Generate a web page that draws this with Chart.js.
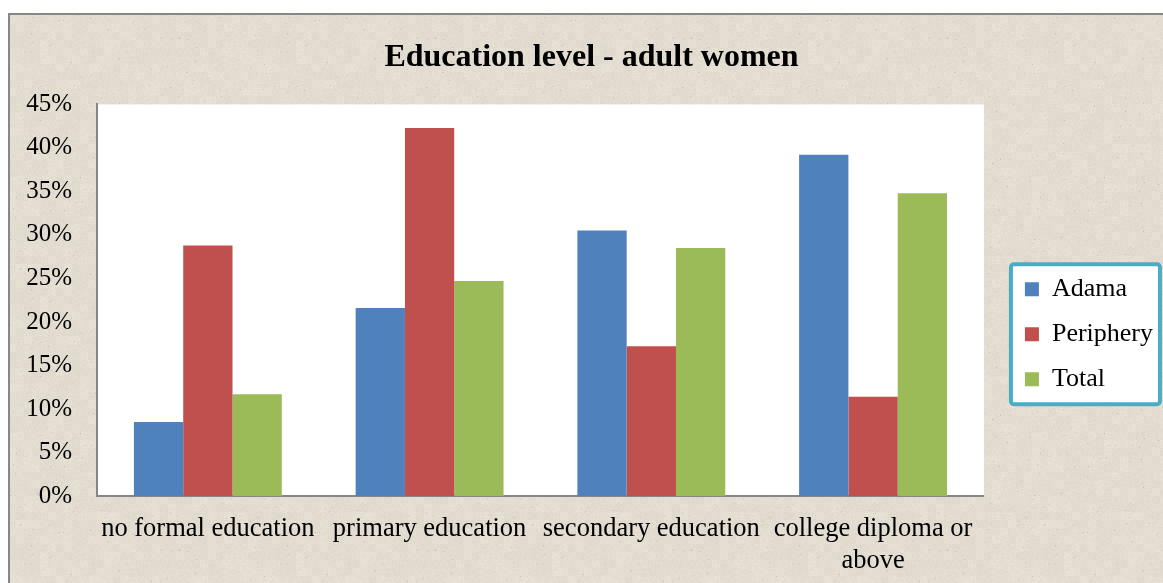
<!DOCTYPE html>
<html>
<head>
<meta charset="utf-8">
<title>Education level - adult women</title>
<script src="https://cdn.jsdelivr.net/npm/chart.js@4/dist/chart.umd.min.js"></script>
<style>
  html, body { margin: 0; padding: 0; background: #fff; }
  #wrap { width: 1163px; height: 583px; }
</style>
</head>
<body>
<div id="wrap"><canvas id="eduChart" width="1163" height="583"></canvas></div>
<script>
// categories and shares (%) per area
const categories = ['no formal education', 'primary education', 'secondary education', ['college diploma or', 'above']];
const adama = [8.5, 21.6, 30.5, 39.2];
const periphery = [28.8, 42.3, 17.2, 11.4];
const total = [11.7, 24.7, 28.5, 34.8];
const yTicks = [0, 5, 10, 15, 20, 25, 30, 35, 40, 45];

const serif = '"Liberation Serif", "Times New Roman", serif';

// parchment-like fill for the outer panel
function makeTexture(ctx) {
  const size = 256;
  const c = document.createElement('canvas');
  c.width = size; c.height = size;
  const g = c.getContext('2d');
  const img = g.createImageData(size, size);
  const hash = (x, y) => {
    let h = (x * 374761393 + y * 668265263) | 0;
    h = Math.imul(h ^ (h >>> 13), 1274126177);
    return ((h ^ (h >>> 16)) >>> 0) / 4294967295;
  };
  for (let y = 0; y < size; y++) {
    for (let x = 0; x < size; x++) {
      const coarse = hash(x >> 3, y >> 3) - 0.5;
      let v = coarse * 6 + (hash(x, y) - 0.5) * 8;
      if (hash(x + 911, y + 37) > 0.997) v -= 28;
      const i = (y * size + x) * 4;
      img.data[i] = 227 + v;
      img.data[i + 1] = 220 + v;
      img.data[i + 2] = 208 + v;
      img.data[i + 3] = 255;
    }
  }
  g.putImageData(img, 0, 0);
  return ctx.createPattern(c, 'repeat');
}

const backdrop = {
  id: 'backdrop',
  afterLayout(chart) {
    // keep the legend box clear of the plot area
    const lg = chart.legend;
    lg.left += 22; lg.right += 22;
    lg.top += 34; lg.bottom += 34;
    // title sits a little right of the canvas centre
    const tb = chart.titleBlock;
    tb.left += 11; tb.right += 11;
  },
  beforeDraw(chart) {
    const { ctx, width, height, chartArea: a } = chart;
    if (!this.pattern) this.pattern = makeTexture(ctx);
    ctx.save();
    ctx.fillStyle = '#ffffff';
    ctx.fillRect(0, 0, width, height);
    ctx.fillStyle = this.pattern;
    ctx.fillRect(8, 13, width - 8, height - 13);
    ctx.strokeStyle = '#878787';
    ctx.lineWidth = 2;
    ctx.beginPath();
    ctx.moveTo(9, height);
    ctx.lineTo(9, 14);
    ctx.lineTo(width, 14);
    ctx.stroke();

    ctx.fillStyle = '#ffffff';
    ctx.fillRect(a.left, a.top, a.right - a.left, a.bottom - a.top);

    // legend frame
    const hb = chart.legend.legendHitBoxes;
    if (hb && hb.length) {
      const last = hb[hb.length - 1];
      const x0 = hb[0].left - 14, x1 = x0 + 149;
      const y0 = hb[0].top - 12, y1 = last.top + last.height + 12;
      ctx.beginPath();
      ctx.roundRect(x0, y0, x1 - x0, y1 - y0, 3);
      ctx.fillStyle = '#ffffff';
      ctx.fill();
      ctx.strokeStyle = '#4bacc6';
      ctx.lineWidth = 4;
      ctx.stroke();
    }
    ctx.restore();
  }
};

new Chart(document.getElementById('eduChart'), {
  type: 'bar',
  data: {
    labels: categories,
    datasets: [
      { label: 'Adama', data: adama, backgroundColor: '#4f81bd', borderWidth: 0 },
      { label: 'Periphery', data: periphery, backgroundColor: '#c0504d', borderWidth: 0 },
      { label: 'Total', data: total, backgroundColor: '#9bbb59', borderWidth: 0 }
    ]
  },
  options: {
    responsive: false,
    animation: false,
    devicePixelRatio: 1,
    datasets: { bar: { categoryPercentage: 0.667, barPercentage: 1.0 } },
    layout: { padding: { left: 20, right: 22, top: 0, bottom: 10 } },
    plugins: {
      tooltip: { enabled: false },
      title: {
        display: true,
        text: 'Education level - adult women',
        color: '#000',
        font: { family: serif, size: 32, weight: 'bold' },
        padding: { top: 39, bottom: 27 }
      },
      legend: {
        position: 'right',
        fullSize: false,
        align: 'center',
        labels: {
          color: '#000',
          font: { family: serif, size: 26 },
          boxWidth: 14,
          boxHeight: 14,
          padding: 19
        }
      }
    },
    scales: {
      x: {
        afterFit(scale) { scale.height = 77; },
        grid: { display: false, drawTicks: false },
        border: { display: true, color: '#868686', width: 2 },
        ticks: {
          color: '#000',
          font: { family: serif, size: 26.5 },
          padding: 17,
          maxRotation: 0,
          autoSkip: false
        }
      },
      y: {
        min: 0,
        max: 45,
        afterFit(scale) { scale.width = 77; },
        afterBuildTicks(scale) { scale.ticks = yTicks.map(v => ({ value: v })); },
        grid: { display: false, drawTicks: false },
        border: { display: true, color: '#868686', width: 2 },
        ticks: {
          color: '#000',
          font: { family: serif, size: 25 },
          padding: 25,
          callback: v => v + '%'
        }
      }
    }
  },
  plugins: [backdrop]
});
</script>
</body>
</html>
